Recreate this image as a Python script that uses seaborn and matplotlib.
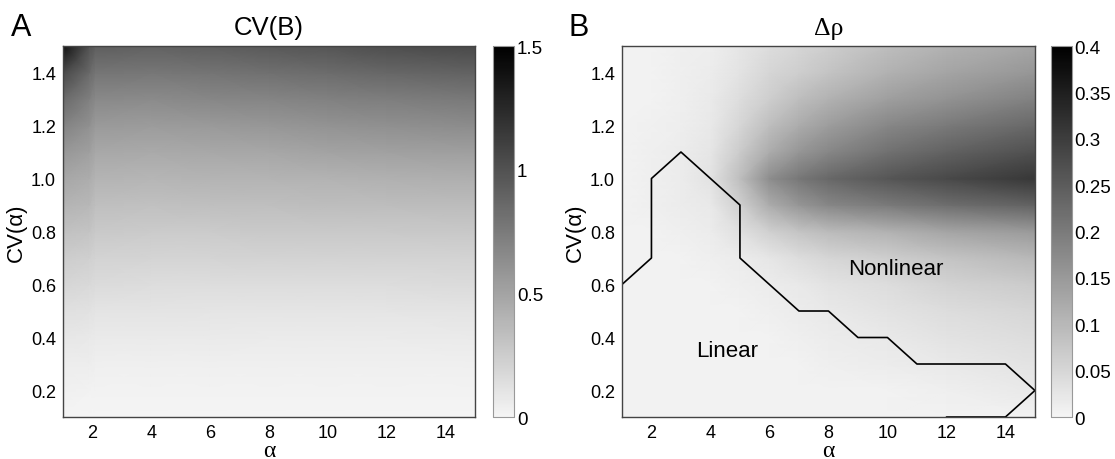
import numpy as np
import matplotlib
matplotlib.use('Agg')
import matplotlib.pyplot as plt
import seaborn as sns
from matplotlib.colors import LinearSegmentedColormap
from matplotlib.ticker import FuncFormatter

# grid of the simulation: CV(alpha) rows, alpha columns
cv_levels = [0.1, 0.2, 0.3, 0.4, 0.5, 0.6, 0.7, 0.8, 0.9, 1.0, 1.1, 1.2, 1.3, 1.4, 1.5]

# Panel A: CV(B)
alpha_a = [1, 1.9, 2.1, 4, 6, 8, 10, 12, 15]
cvb = [
    [0.01, 0.01, 0.01, 0.01, 0.01, 0.01, 0.01, 0.01, 0.01],
    [0.03, 0.02, 0.02, 0.02, 0.02, 0.02, 0.02, 0.02, 0.02],
    [0.05, 0.05, 0.04, 0.04, 0.04, 0.04, 0.04, 0.04, 0.04],
    [0.09, 0.08, 0.07, 0.07, 0.07, 0.06, 0.06, 0.06, 0.07],
    [0.13, 0.12, 0.11, 0.11, 0.10, 0.10, 0.10, 0.10, 0.11],
    [0.19, 0.17, 0.16, 0.15, 0.15, 0.15, 0.15, 0.15, 0.16],
    [0.25, 0.23, 0.21, 0.20, 0.20, 0.21, 0.21, 0.21, 0.21],
    [0.32, 0.30, 0.27, 0.26, 0.26, 0.27, 0.27, 0.27, 0.28],
    [0.40, 0.37, 0.33, 0.32, 0.33, 0.33, 0.34, 0.34, 0.35],
    [0.48, 0.44, 0.40, 0.39, 0.40, 0.40, 0.41, 0.42, 0.43],
    [0.58, 0.52, 0.47, 0.46, 0.47, 0.48, 0.50, 0.51, 0.53],
    [0.70, 0.61, 0.56, 0.55, 0.56, 0.58, 0.60, 0.62, 0.64],
    [0.85, 0.72, 0.66, 0.65, 0.67, 0.69, 0.71, 0.73, 0.76],
    [1.05, 0.85, 0.78, 0.77, 0.79, 0.81, 0.84, 0.87, 0.90],
    [1.40, 1.00, 0.92, 0.90, 0.92, 0.95, 0.98, 1.02, 1.05],
]

# Panel B: delta rho
alpha_b = [1, 2, 3, 4, 5, 6, 7, 8, 10, 12, 15]
drho = [
    [0.005, 0.005, 0.005, 0.005, 0.005, 0.005, 0.005, 0.005, 0.005, 0.005, 0.005],
    [0.005, 0.005, 0.005, 0.005, 0.005, 0.005, 0.005, 0.005, 0.005, 0.01, 0.02],
    [0.005, 0.005, 0.005, 0.005, 0.005, 0.005, 0.005, 0.01, 0.015, 0.02, 0.03],
    [0.005, 0.005, 0.005, 0.005, 0.005, 0.005, 0.01, 0.015, 0.02, 0.03, 0.04],
    [0.005, 0.005, 0.005, 0.005, 0.005, 0.01, 0.015, 0.02, 0.03, 0.04, 0.05],
    [0.005, 0.005, 0.005, 0.005, 0.01, 0.015, 0.02, 0.03, 0.04, 0.055, 0.07],
    [0.005, 0.005, 0.005, 0.01, 0.015, 0.025, 0.04, 0.05, 0.065, 0.08, 0.10],
    [0.005, 0.005, 0.01, 0.015, 0.035, 0.06, 0.08, 0.095, 0.11, 0.13, 0.15],
    [0.005, 0.01, 0.015, 0.02, 0.06, 0.12, 0.155, 0.18, 0.20, 0.22, 0.24],
    [0.005, 0.01, 0.015, 0.03, 0.09, 0.17, 0.205, 0.23, 0.26, 0.28, 0.31],
    [0.005, 0.01, 0.015, 0.025, 0.07, 0.12, 0.155, 0.18, 0.215, 0.24, 0.27],
    [0.005, 0.008, 0.012, 0.02, 0.05, 0.09, 0.12, 0.145, 0.18, 0.20, 0.23],
    [0.005, 0.005, 0.01, 0.018, 0.04, 0.065, 0.09, 0.11, 0.14, 0.16, 0.19],
    [0.005, 0.005, 0.01, 0.015, 0.03, 0.05, 0.065, 0.08, 0.11, 0.13, 0.155],
    [0.005, 0.005, 0.01, 0.012, 0.025, 0.04, 0.05, 0.065, 0.09, 0.11, 0.13],
]

# linear / nonlinear boundary
border_alpha = [1, 2, 2, 3, 4, 5, 5, 6, 7, 8, 9, 10, 11, 12, 13, 14, 15, 14, 12]
border_cv = [0.6, 0.7, 1.0, 1.1, 1.0, 0.9, 0.7, 0.6, 0.5, 0.5, 0.4, 0.4, 0.3, 0.3, 0.3, 0.3, 0.2, 0.1, 0.1]

sns.set_theme(style='ticks')
plt.rcParams['font.family'] = ['Liberation Sans', 'DejaVu Sans']
plt.rcParams['text.color'] = 'black'
plt.rcParams['axes.labelcolor'] = 'black'

cmap = LinearSegmentedColormap.from_list('mgray', ['#f5f5f5', '#000000'])
fmt = FuncFormatter(lambda v, p: '%g' % round(v, 3))
serif = ['Liberation Serif', 'DejaVu Serif']

fig = plt.figure(figsize=(11.15, 4.6), dpi=100)
ax_a = fig.add_axes([0.0565, 0.0913, 0.3695, 0.8065])
cax_a = fig.add_axes([0.4422, 0.0913, 0.0188, 0.8065])
ax_b = fig.add_axes([0.5578, 0.0913, 0.3704, 0.8065])
cax_b = fig.add_axes([0.9424, 0.0913, 0.0188, 0.8065])


def draw_panel(ax, cax, alpha, values, vmax, cticks, title, title_family):
    X, Y = np.meshgrid(alpha, cv_levels)
    mesh = ax.pcolormesh(X, Y, np.array(values), cmap=cmap, vmin=0, vmax=vmax,
                         shading='gouraud', rasterized=True)
    ax.set_xlim(1, 15)
    ax.set_ylim(0.1, 1.5)
    ax.set_xticks([2, 4, 6, 8, 10, 12, 14])
    ax.set_yticks([0.2, 0.4, 0.6, 0.8, 1.0, 1.2, 1.4])
    ax.yaxis.set_major_formatter(FuncFormatter(lambda v, p: '%.1f' % v))
    ax.tick_params(direction='in', length=3, width=0.6, colors='#333333',
                   labelsize=13, labelcolor='black', pad=5)
    for s in ax.spines.values():
        s.set_color('#444444')
        s.set_linewidth(1.0)
    ax.set_title(title, fontsize=18.5, pad=9, family=title_family)
    ax.set_xlabel('α', fontsize=17, labelpad=-1, family=serif)
    ax.set_ylabel('CV(α)', fontsize=16, labelpad=3)

    cb = fig.colorbar(mesh, cax=cax, ticks=cticks, format=fmt)
    cb.outline.set_edgecolor('#999999')
    cb.outline.set_linewidth(0.8)
    cax.tick_params(direction='in', length=3, width=0.6, colors='#555555',
                    labelsize=13.5, labelcolor='black', pad=2, left=True, right=True)
    return cb


draw_panel(ax_a, cax_a, alpha_a, cvb, 1.5, [0, 0.5, 1, 1.5], 'CV(B)',
           ['Liberation Sans', 'DejaVu Sans'])
draw_panel(ax_b, cax_b, alpha_b, drho, 0.4,
           [0, 0.05, 0.1, 0.15, 0.2, 0.25, 0.3, 0.35, 0.4], 'Δρ', serif)

sns.lineplot(x=border_alpha, y=border_cv, sort=False, estimator=None,
             color='black', linewidth=1.2, ax=ax_b)
ax_b.text(10.3, 0.66, 'Nonlinear', fontsize=16, ha='center', va='center')
ax_b.text(4.55, 0.35, 'Linear', fontsize=16, ha='center', va='center')

fig.text(0.010, 0.94, 'A', fontsize=22, ha='left', va='center')
fig.text(0.510, 0.94, 'B', fontsize=22, ha='left', va='center')

fig.savefig('out.png', dpi=100, facecolor='white')
